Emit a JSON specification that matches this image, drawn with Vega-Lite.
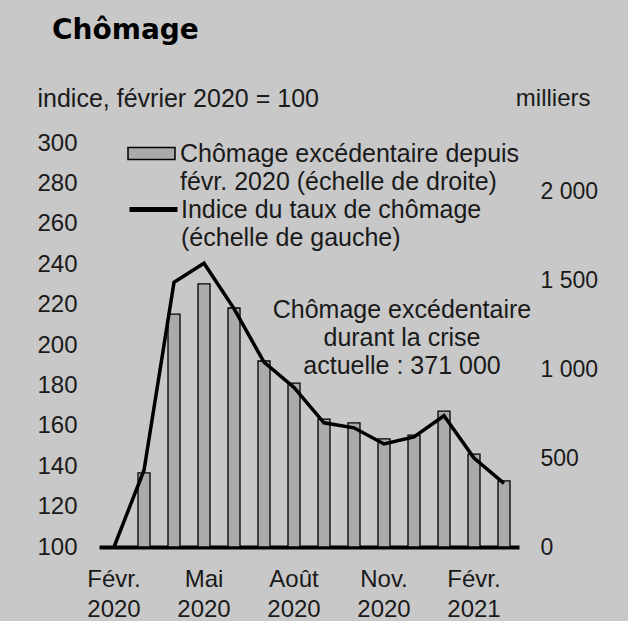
{
  "$schema": "https://vega.github.io/schema/vega-lite/v6.json",
  "autosize": {"type": "none"},
  "width": 420,
  "height": 404,
  "padding": {"left": 99, "top": 143, "right": 109, "bottom": 74},
  "background": "#c8c8c8",
  "title": {
    "text": "Chômage",
    "anchor": "start",
    "frame": "group",
    "font": "DejaVu Sans",
    "fontSize": 28,
    "fontWeight": "bold",
    "color": "#000000",
    "dx": -47,
    "dy": -11,
    "offset": 30
  },
  "datasets": {
    "monthly": [
      {"month": "2020-02", "excess": null, "idx": 100},
      {"month": "2020-03", "excess": 416, "idx": 138},
      {"month": "2020-04", "excess": 1309, "idx": 231},
      {"month": "2020-05", "excess": 1478, "idx": 240.5},
      {"month": "2020-06", "excess": 1343, "idx": 218},
      {"month": "2020-07", "excess": 1045, "idx": 191.5},
      {"month": "2020-08", "excess": 921, "idx": 179},
      {"month": "2020-09", "excess": 719, "idx": 161.5},
      {"month": "2020-10", "excess": 697, "idx": 159},
      {"month": "2020-11", "excess": 607, "idx": 151},
      {"month": "2020-12", "excess": 629, "idx": 154.5},
      {"month": "2021-01", "excess": 764, "idx": 165},
      {"month": "2021-02", "excess": 522, "idx": 144},
      {"month": "2021-03", "excess": 371, "idx": 131.5}
    ],
    "note": [
      {"month": "2020-12", "idx": 217.3, "label": ["Chômage excédentaire", "durant la crise", "actuelle : 371 000"]}
    ]
  },
  "encoding": {
    "x": {
      "field": "month",
      "type": "ordinal",
      "scale": {
        "domain": ["2020-02","2020-03","2020-04","2020-05","2020-06","2020-07","2020-08","2020-09","2020-10","2020-11","2020-12","2021-01","2021-02","2021-03"],
        "paddingInner": 0.6,
        "paddingOuter": 0.3
      },
      "axis": {
        "title": null,
        "values": ["2020-02","2020-05","2020-08","2020-11","2021-02"],
        "labelExpr": "datum.value == '2020-02' ? ['Févr.', '2020'] : datum.value == '2020-05' ? ['Mai', '2020'] : datum.value == '2020-08' ? ['Août', '2020'] : datum.value == '2020-11' ? ['Nov.', '2020'] : ['Févr.', '2021']",
        "labelAngle": 0,
        "labelAlign": "center",
        "labelBaseline": "top",
        "labelPadding": 20,
        "labelLineHeight": 30,
        "labelFont": "Liberation Sans",
        "labelFontSize": 24,
        "labelColor": "#1a1a1a",
        "labelOverlap": false,
        "labelBound": false,
        "ticks": false,
        "tickSize": 0,
        "domain": true,
        "domainColor": "#000000",
        "domainWidth": 4,
        "grid": false
      }
    }
  },
  "layer": [
    {
      "data": {"name": "monthly"},
      "mark": {"type": "bar", "stroke": "#000000", "strokeWidth": 1.3},
      "encoding": {
        "y": {
          "field": "excess",
          "type": "quantitative",
          "scale": {"domain": [0, 2270], "nice": false, "zero": true},
          "axis": {
            "orient": "right",
            "title": "milliers",
            "titleAngle": 0,
            "titleX": 71,
            "titleY": -45,
            "titleAlign": "right",
            "titleBaseline": "middle",
            "titleFont": "Liberation Sans",
            "titleFontSize": 24,
            "titleFontWeight": "normal",
            "titleColor": "#1a1a1a",
            "values": [0, 500, 1000, 1500, 2000],
            "labelExpr": "replace(format(datum.value, ','), ',', ' ')",
            "labelFont": "Liberation Sans",
            "labelFontSize": 23,
            "labelColor": "#1a1a1a",
            "labelPadding": 21,
            "labelAlign": "left",
            "labelBound": false,
            "labelOverlap": false,
            "ticks": false,
            "tickSize": 0,
            "domain": false,
            "grid": false
          }
        },
        "fill": {
          "datum": "bars",
          "type": "nominal",
          "scale": {"domain": ["bars"], "range": ["#aaaaaa"]},
          "legend": {
            "orient": "none",
            "legendX": 28,
            "legendY": -14,
            "title": null,
            "padding": 0,
            "labelExpr": "['Chômage excédentaire depuis', 'févr. 2020 (échelle de droite)']",
            "labelFont": "Liberation Sans",
            "labelFontSize": 25,
            "labelColor": "#1a1a1a",
            "labelLimit": 600,
            "labelOffset": 4,
            "labelBaseline": "middle",
            "symbolType": "M-1,-0.255H1V0.255H-1Z",
            "symbolSize": 2209,
            "symbolStrokeColor": "#000000",
            "symbolStrokeWidth": 1.5,
            "symbolOpacity": 1,
            "encode": {"labels": {"update": {"lineHeight": {"value": 28}}}}
          }
        }
      }
    },
    {
      "layer": [
        {
          "data": {"name": "monthly"},
          "mark": {"type": "line", "strokeWidth": 3.5},
          "encoding": {
            "y": {
              "field": "idx",
              "type": "quantitative",
              "scale": {"domain": [100, 300], "nice": false, "zero": false},
              "axis": {
                "orient": "left",
                "title": "indice, février 2020 = 100",
                "titleAngle": 0,
                "titleX": -62,
                "titleY": -45,
                "titleAlign": "left",
                "titleBaseline": "middle",
                "titleFont": "Liberation Sans",
                "titleFontSize": 25,
                "titleFontWeight": "normal",
                "titleColor": "#1a1a1a",
                "values": [100, 120, 140, 160, 180, 200, 220, 240, 260, 280, 300],
                "labelFont": "Liberation Sans",
                "labelFontSize": 24,
                "labelColor": "#1a1a1a",
                "labelPadding": 22,
                "labelBound": false,
                "labelOverlap": false,
                "ticks": false,
                "tickSize": 0,
                "domain": false,
                "grid": false
              }
            },
            "stroke": {
              "datum": "line",
              "type": "nominal",
              "scale": {"domain": ["line"], "range": ["#000000"]},
              "legend": {
                "orient": "none",
                "legendX": 28,
                "legendY": 40,
                "title": null,
                "padding": 0,
                "labelExpr": "['Indice du taux de chômage', '(échelle de gauche)']",
                "labelFont": "Liberation Sans",
                "labelFontSize": 25,
                "labelColor": "#1a1a1a",
                "labelLimit": 600,
                "labelOffset": 1,
                "labelBaseline": "middle",
                "symbolType": "stroke",
                "symbolSize": 2304,
                "symbolStrokeWidth": 5,
                "symbolStrokeColor": "#000000",
                "encode": {"labels": {"update": {"lineHeight": {"value": 28}}}}
              }
            }
          }
        },
        {
          "data": {"name": "note"},
          "mark": {
            "type": "text",
            "font": "Liberation Sans",
            "fontSize": 25,
            "color": "#1a1a1a",
            "align": "center",
            "baseline": "middle",
            "lineHeight": 28,
            "dx": -12
          },
          "encoding": {
            "y": {"field": "idx", "type": "quantitative"},
            "text": {"field": "label"}
          }
        }
      ]
    }
  ],
  "resolve": {"scale": {"y": "independent"}},
  "config": {
    "view": {"stroke": null},
    "font": "Liberation Sans"
  }
}
